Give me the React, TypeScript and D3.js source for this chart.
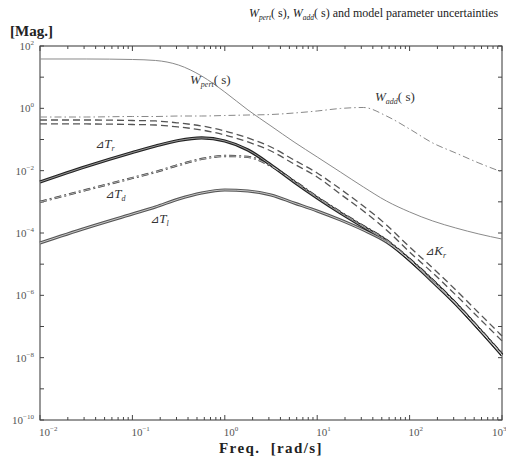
import React from "react";
import * as d3 from "d3";

const FREQ = [0.01, 0.0316, 0.1, 0.178, 0.316, 0.562, 1, 1.78, 3.16, 5.62, 10, 17.8, 31.6, 56.2, 100, 178, 316, 562, 1000];
const W_PERT = [38.3, 38.3, 36.9, 34.3, 24.5, 10.9, 3.34, 0.885, 0.271, 0.0832, 0.0275, 0.00907, 0.003, 0.00106, 4.73e-4, 2.43e-4, 1.45e-4, 9.3e-5, 6.4e-5];
const W_ADD = [0.527, 0.527, 0.547, 0.547, 0.567, 0.567, 0.589, 0.611, 0.634, 0.708, 0.822, 0.989, 1.064, 0.567, 0.217, 0.0773, 0.0369, 0.0176, 0.00907];
const DKR_A = [0.423, 0.423, 0.407, 0.393, 0.339, 0.272, 0.188, 0.112, 0.0575, 0.022, 0.00843, 0.00258, 7.36e-4, 1.81e-4, 3.56e-5, 7.55e-6, 1.49e-6, 2.72e-7, 4.97e-8];
const DKR_B = [0.315, 0.315, 0.303, 0.292, 0.252, 0.202, 0.14, 0.0832, 0.0428, 0.0164, 0.00627, 0.00178, 5.08e-4, 1.25e-4, 2.46e-5, 5.21e-6, 1.03e-6, 1.88e-7, 3.44e-8];
const DTR = [4.33e-3, 0.0136, 0.0383, 0.0619, 0.0929, 0.112, 0.0895, 0.046, 0.0152, 4.33e-3, 1.33e-3, 4.38e-4, 1.56e-4, 5.55e-5, 1.36e-5, 2.88e-6, 5.28e-7, 8.33e-8, 1.22e-8];
const DTD = [9.89e-4, 2.4e-3, 5.82e-3, 9.07e-3, 0.0152, 0.0237, 0.0296, 0.0275, 0.0141, 4.67e-3, 1.43e-3, 4.72e-4, 1.68e-4, 5.97e-5, 1.47e-5, 3.11e-6, 5.69e-7, 8.97e-8, 1.31e-8];
const DTL = [4.79e-5, 1.45e-4, 4.07e-4, 6.84e-4, 1.23e-3, 1.92e-3, 2.4e-3, 2.23e-3, 1.66e-3, 9.18e-4, 5.08e-4, 2.62e-4, 1.25e-4, 5.15e-5, 1.36e-5, 2.68e-6, 5.28e-7, 8.33e-8, 1.22e-8];

const X_TICK_EXP = [-2, -1, 0, 1, 2, 3];
const Y_TICK_EXP = [2, 0, -2, -4, -6, -8, -10];

const W = 506, H = 459;
const L = 40, R = 502, T = 46, B = 420;
const SERIF = "'Liberation Serif', 'Times New Roman', serif";
const DELTA_FONT = "'DejaVu Sans', 'Noto Sans CJK JP', sans-serif";

export default function App() {
  const x = d3.scaleLog().domain([0.01, 1000]).range([L, R]);
  const y = d3.scaleLog().domain([1e-10, 1e2]).range([B, T]);
  const line = (vals: number[]) =>
    d3.line<number>()
      .x((_, i) => x(FREQ[i]))
      .y((v) => y(v))
      .curve(d3.curveMonotoneX)(vals) || "";

  const xMinor: number[] = [];
  for (let e = -2; e < 3; e++) for (let k = 2; k <= 9; k++) xMinor.push(k * Math.pow(10, e));
  const xMajor = X_TICK_EXP.map((e) => Math.pow(10, e));
  const yMajor: number[] = [];
  for (let e = -10; e <= 2; e++) yMajor.push(Math.pow(10, e));

  const tickCol = "#444";
  return (
    <svg width={W} height={H} style={{ position: "absolute", left: 0, top: 0, background: "#fff" }}
      fontFamily={SERIF}>
      <rect x={0} y={0} width={W} height={H} fill="#fff" />
      {/* title */}
      <text x={249} y={17} fontSize={12} fill="#222">
        <tspan fontStyle="italic">W</tspan>
        <tspan fontStyle="italic" fontSize={7.5} dy={3}>pert</tspan>
        <tspan dy={-3}>( s), </tspan>
        <tspan fontStyle="italic">W</tspan>
        <tspan fontStyle="italic" fontSize={7.5} dy={3}>add</tspan>
        <tspan dy={-3}>( s) and model parameter uncertainties</tspan>
      </text>
      <text x={10} y={36} fontSize={15} fontWeight="bold" fill="#222">[Mag.]</text>

      {/* frame */}
      <rect x={L} y={T} width={R - L} height={B - T} fill="none" stroke="#333" strokeWidth={1} />
      {xMajor.map((v, i) => (
        <g key={"xM" + i}>
          <line x1={x(v)} x2={x(v)} y1={B} y2={B - 5} stroke={tickCol} />
          <line x1={x(v)} x2={x(v)} y1={T} y2={T + 5} stroke={tickCol} />
        </g>
      ))}
      {xMinor.map((v, i) => (
        <g key={"xm" + i}>
          <line x1={x(v)} x2={x(v)} y1={B} y2={B - 3} stroke={tickCol} />
          <line x1={x(v)} x2={x(v)} y1={T} y2={T + 3} stroke={tickCol} />
        </g>
      ))}
      {yMajor.map((v, i) => (
        <g key={"yM" + i}>
          <line x1={L} x2={L + 4} y1={y(v)} y2={y(v)} stroke={tickCol} />
          <line x1={R} x2={R - 4} y1={y(v)} y2={y(v)} stroke={tickCol} />
        </g>
      ))}

      {/* tick labels */}
      {X_TICK_EXP.map((e) => (
        <text key={"xl" + e} x={Math.min(x(Math.pow(10, e)) - 1, 492)} y={436} fontSize={11} fill="#555">
          10<tspan fontSize={7} dy={-5}>{e < 0 ? "\u2212" + Math.abs(e) : String(e)}</tspan>
        </text>
      ))}
      {Y_TICK_EXP.map((e) => (
        <text key={"yl" + e} x={34} y={y(Math.pow(10, e)) + 4} fontSize={11} fill="#555" textAnchor="end">
          10<tspan fontSize={7} dy={-5}>{e < 0 ? "\u2212" + Math.abs(e) : String(e)}</tspan>
        </text>
      ))}
      <text x={271} y={453} fontSize={15} fontWeight="bold" fill="#222" textAnchor="middle" letterSpacing={1.4}>
        {"Freq.\u00A0\u00A0[rad/s]"}
      </text>

      {/* curves */}
      <path d={line(W_PERT)} fill="none" stroke="#8a8a8a" strokeWidth={1} />
      <path d={line(W_ADD)} fill="none" stroke="#888" strokeWidth={1} strokeDasharray="7,3,1.5,3" />
      <path d={line(DKR_A)} fill="none" stroke="#555" strokeWidth={1.3} strokeDasharray="7,4" />
      <path d={line(DKR_B)} fill="none" stroke="#555" strokeWidth={1.3} strokeDasharray="7,4" />
      <path d={line(DTL)} fill="none" stroke="#555" strokeWidth={3} />
      <path d={line(DTD)} fill="none" stroke="#444" strokeWidth={2.3} strokeDasharray="7,3,2,3" />
      <path d={line(DTR)} fill="none" stroke="#222" strokeWidth={3.2} />
      <path d={line(DTL)} fill="none" stroke="#fff" strokeWidth={0.9} strokeOpacity={0.75} />
      <path d={line(DTD)} fill="none" stroke="#fff" strokeWidth={0.8} strokeOpacity={0.7} strokeDasharray="7,3,2,3" />
      <path d={line(DTR)} fill="none" stroke="#fff" strokeWidth={0.9} strokeOpacity={0.6} />

      {/* curve labels */}
      <text x={190} y={84} fontSize={13} fill="#333">
        <tspan fontStyle="italic">W</tspan>
        <tspan fontStyle="italic" fontSize={8} dy={3}>pert</tspan>
        <tspan dy={-3}>( s)</tspan>
      </text>
      <text x={375} y={101} fontSize={13} fill="#333">
        <tspan fontStyle="italic">W</tspan>
        <tspan fontStyle="italic" fontSize={8} dy={3}>add</tspan>
        <tspan dy={-3}>( s)</tspan>
      </text>
      <text x={95} y={148} fontSize={13} fill="#333">
        <tspan fontFamily={DELTA_FONT} fontSize={11}>{"\u22BF"}</tspan>
        <tspan fontStyle="italic">T</tspan>
        <tspan fontStyle="italic" fontSize={8} dy={3}>r</tspan>
      </text>
      <text x={105} y={198} fontSize={13} fill="#333">
        <tspan fontFamily={DELTA_FONT} fontSize={11}>{"\u22BF"}</tspan>
        <tspan fontStyle="italic">T</tspan>
        <tspan fontStyle="italic" fontSize={8} dy={3}>d</tspan>
      </text>
      <text x={150} y={223} fontSize={13} fill="#333">
        <tspan fontFamily={DELTA_FONT} fontSize={11}>{"\u22BF"}</tspan>
        <tspan fontStyle="italic">T</tspan>
        <tspan fontStyle="italic" fontSize={8} dy={3}>l</tspan>
      </text>
      <text x={425} y={255} fontSize={13} fill="#333">
        <tspan fontFamily={DELTA_FONT} fontSize={11}>{"\u22BF"}</tspan>
        <tspan fontStyle="italic">K</tspan>
        <tspan fontStyle="italic" fontSize={8} dy={3}>r</tspan>
      </text>
    </svg>
  );
}
